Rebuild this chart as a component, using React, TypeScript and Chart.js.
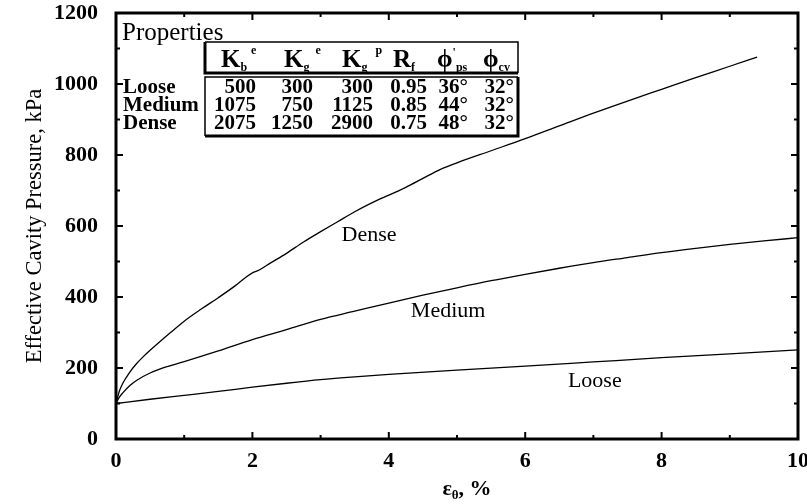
import React, { useEffect, useRef } from "react";
import { Chart, registerables } from "chart.js";
Chart.register(...registerables);

// ---- data ----
const xTicks = [0, 2, 4, 6, 8, 10];
const yTicks = [0, 200, 400, 600, 800, 1000, 1200];
const xMinor = [1, 2, 3, 4, 5, 6, 7, 8, 9];
const yMinor = [100, 200, 300, 400, 500, 600, 700, 800, 900, 1000, 1100];

const looseX = [0, 0.5, 1, 1.5, 2, 2.5, 3, 3.5, 4, 5, 6, 7, 8, 9, 10];
const looseY = [100, 112, 123, 134, 146, 157, 167, 175, 182, 194, 205, 217, 229, 240, 251];

const mediumX = [0, 0.05, 0.1, 0.2, 0.3, 0.5, 0.75, 1, 1.5, 2, 2.5, 3, 3.5, 4, 4.5, 5, 5.5, 6, 6.5, 7, 7.5, 8, 8.5, 9, 9.5, 10];
const mediumY = [100, 118, 130, 150, 165, 186, 204, 218, 248, 280, 308, 337, 360, 383, 405, 426, 446, 464, 481, 497, 511, 525, 537, 548, 558, 567];

const denseX = [0, 0.05, 0.1, 0.2, 0.3, 0.4, 0.5, 0.6, 0.8, 1, 1.25, 1.5, 1.75, 1.9, 2, 2.1, 2.25, 2.5, 2.75, 3, 3.25, 3.5, 3.75, 4, 4.25, 4.5, 4.75, 5, 5.5, 6, 6.5, 7, 7.5, 8, 8.5, 9, 9.4];
const denseY = [100, 135, 157, 188, 212, 232, 250, 267, 300, 332, 366, 398, 432, 455, 468, 476, 494, 523, 555, 584, 612, 640, 665, 687, 709, 734, 759, 778, 812, 846, 882, 918, 952, 985, 1018, 1050, 1076];

const curveNames = ["Dense", "Medium", "Loose"];
const curveLabelX = [3.71, 4.87, 7.02];
const curveLabelY = [575, 360, 163];

const tableTitle = "Properties";
const rowNames = ["Loose", "Medium", "Dense"];
const colKbe = ["500", "1075", "2075"];
const colKge = ["300", "750", "1250"];
const colKgp = ["300", "1125", "2900"];
const colRf = ["0.95", "0.85", "0.75"];
const colPhiPs = ["36°", "44°", "48°"];
const colPhiCv = ["32°", "32°", "32°"];

const yTitle = "Effective Cavity Pressure, kPa";

const SERIF = "'Liberation Serif', 'Times New Roman', serif";

function toPts(xs: number[], ys: number[]) {
  return xs.map((x, i) => ({ x, y: ys[i] }));
}

type Part = { t: string; f: string; dy?: number; gap?: number };
function rich(ctx: CanvasRenderingContext2D, x: number, y: number, parts: Part[]) {
  let cx = x;
  for (const p of parts) {
    ctx.font = p.f;
    cx += p.gap || 0;
    ctx.fillText(p.t, cx, y + (p.dy || 0));
    cx += ctx.measureText(p.t).width;
  }
  return cx;
}

const decor = {
  id: "decor",
  afterDraw(chart: any) {
    const { ctx, chartArea: a, scales } = chart;
    const xs = scales.x;
    const ys = scales.y;
    ctx.save();
    ctx.strokeStyle = "#000";
    ctx.fillStyle = "#000";

    // frame
    ctx.lineWidth = 3;
    ctx.strokeRect(a.left, a.top, a.right - a.left, a.bottom - a.top);

    // inward ticks
    ctx.lineWidth = 2;
    ctx.beginPath();
    for (const v of xMinor) {
      const px = xs.getPixelForValue(v);
      const len = xTicks.includes(v) ? 7 : 4;
      ctx.moveTo(px, a.bottom);
      ctx.lineTo(px, a.bottom - len);
      ctx.moveTo(px, a.top);
      ctx.lineTo(px, a.top + len);
    }
    for (const v of yMinor) {
      const py = ys.getPixelForValue(v);
      const len = yTicks.includes(v) ? 7 : 4;
      ctx.moveTo(a.left, py);
      ctx.lineTo(a.left + len, py);
      ctx.moveTo(a.right, py);
      ctx.lineTo(a.right - len, py);
    }
    ctx.stroke();

    // curve labels
    ctx.font = `22px ${SERIF}`;
    ctx.textAlign = "center";
    ctx.textBaseline = "middle";
    curveNames.forEach((n, i) => {
      ctx.fillText(n, xs.getPixelForValue(curveLabelX[i]), ys.getPixelForValue(curveLabelY[i]));
    });

    // y title
    ctx.save();
    ctx.translate(35, (a.top + a.bottom) / 2);
    ctx.rotate(-Math.PI / 2);
    ctx.font = `22.5px ${SERIF}`;
    ctx.textAlign = "center";
    ctx.textBaseline = "middle";
    ctx.fillText(yTitle, 0, 0);
    ctx.restore();

    // x title with subscript
    ctx.textAlign = "left";
    ctx.textBaseline = "alphabetic";
    const big = `bold 22px ${SERIF}`;
    const sub = `bold 13px ${SERIF}`;
    const xparts: Part[] = [
      { t: "ε", f: big },
      { t: "θ", f: sub, dy: 4 },
      { t: ", %", f: big },
    ];
    let w = 0;
    for (const p of xparts) {
      ctx.font = p.f;
      w += ctx.measureText(p.t).width;
    }
    rich(ctx, 467 - w / 2, 495, xparts);

    // table
    ctx.font = `25px ${SERIF}`;
    ctx.fillText(tableTitle, 122, 40);

    // header box
    const bx0 = 205, bx1 = 518;
    ctx.lineWidth = 1.5;
    ctx.beginPath();
    ctx.moveTo(bx0, 42); ctx.lineTo(bx1, 42); ctx.lineTo(bx1, 73);
    ctx.stroke();
    ctx.lineWidth = 3;
    ctx.beginPath();
    ctx.moveTo(bx0, 42); ctx.lineTo(bx0, 73); ctx.lineTo(bx1, 73);
    ctx.stroke();
    // data box
    ctx.lineWidth = 1.5;
    ctx.beginPath();
    ctx.moveTo(bx0, 136); ctx.lineTo(bx0, 77); ctx.lineTo(bx1, 77);
    ctx.stroke();
    ctx.lineWidth = 3;
    ctx.beginPath();
    ctx.moveTo(bx1, 77); ctx.lineTo(bx1, 136); ctx.lineTo(bx0, 136);
    ctx.stroke();

    // header text
    const hb = `bold 25px ${SERIF}`;
    const hs = `bold 12px ${SERIF}`;
    const hbase = 67;
    rich(ctx, 221, hbase, [
      { t: "K", f: hb },
      { t: "b", f: hs, dy: 4 },
      { t: "e", f: hs, dy: -13, gap: 4 },
    ]);
    rich(ctx, 284, hbase, [
      { t: "K", f: hb },
      { t: "g", f: hs, dy: 4 },
      { t: "e", f: hs, dy: -13, gap: 6 },
    ]);
    rich(ctx, 342, hbase, [
      { t: "K", f: hb },
      { t: "g", f: hs, dy: 4 },
      { t: "p", f: hs, dy: -13, gap: 8 },
    ]);
    rich(ctx, 393, hbase, [
      { t: "R", f: hb },
      { t: "f", f: hs, dy: 4 },
    ]);
    rich(ctx, 437, hbase, [
      { t: "ϕ", f: hb },
      { t: "'", f: hs, dy: -11 },
      { t: "ps", f: hs, dy: 4 },
    ]);
    rich(ctx, 483, hbase, [
      { t: "ϕ", f: hb },
      { t: "cv", f: hs, dy: 4 },
    ]);

    // rows
    const rowY = [88, 106, 124];
    ctx.textBaseline = "middle";
    ctx.font = `bold 21px ${SERIF}`;
    ctx.textAlign = "left";
    rowNames.forEach((n, i) => ctx.fillText(n, 123, rowY[i]));
    const cols = [colKbe, colKge, colKgp, colRf, colPhiPs, colPhiCv];
    const colRight = [256, 313, 373, 427, 468, 514];
    ctx.textAlign = "right";
    cols.forEach((c, j) => {
      c.forEach((v, i) => ctx.fillText(v, colRight[j], rowY[i]));
    });

    ctx.restore();
  },
};

export default function App() {
  const ref = useRef<HTMLCanvasElement>(null);
  useEffect(() => {
    if (!ref.current) return;
    const ds = (d: { x: number; y: number }[]) => ({
      data: d,
      borderColor: "#000",
      borderWidth: 1.3,
      pointRadius: 0,
      showLine: true,
      fill: false,
      cubicInterpolationMode: "monotone" as const,
    });
    const chart = new Chart(ref.current, {
      type: "scatter",
      data: {
        datasets: [
          ds(toPts(looseX, looseY)),
          ds(toPts(mediumX, mediumY)),
          ds(toPts(denseX, denseY)),
        ],
      },
      options: {
        animation: false,
        responsive: false,
        layout: { padding: { top: 13, right: 9, left: 0, bottom: 0 } },
        plugins: { legend: { display: false }, tooltip: { enabled: false } },
        scales: {
          x: {
            type: "linear",
            min: 0,
            max: 10,
            afterBuildTicks: (s: any) => {
              s.ticks = xTicks.map((v) => ({ value: v }));
            },
            grid: { display: false, drawTicks: false },
            border: { display: false },
            ticks: {
              color: "#000",
              padding: 9,
              maxRotation: 0,
              callback: (v: any) => String(v),
              font: { family: SERIF, size: 22, weight: "bold" },
            },
            afterFit: (s: any) => {
              s.height = 65;
              s.paddingLeft = 0;
              s.paddingRight = 0;
            },
          },
          y: {
            type: "linear",
            min: 0,
            max: 1200,
            afterBuildTicks: (s: any) => {
              s.ticks = yTicks.map((v) => ({ value: v }));
            },
            grid: { display: false, drawTicks: false },
            border: { display: false },
            ticks: {
              color: "#000",
              padding: 18,
              callback: (v: any) => String(v),
              font: { family: SERIF, size: 22, weight: "bold" },
            },
            afterFit: (s: any) => {
              s.width = 116;
              s.paddingTop = 0;
              s.paddingBottom = 0;
            },
          },
        },
      },
      plugins: [decor],
    });
    return () => chart.destroy();
  }, []);
  return (
    <div style={{ position: "absolute", left: 0, top: 0, width: 807, height: 504, background: "#fff" }}>
      <canvas ref={ref} width={807} height={504} style={{ display: "block" }} />
    </div>
  );
}
